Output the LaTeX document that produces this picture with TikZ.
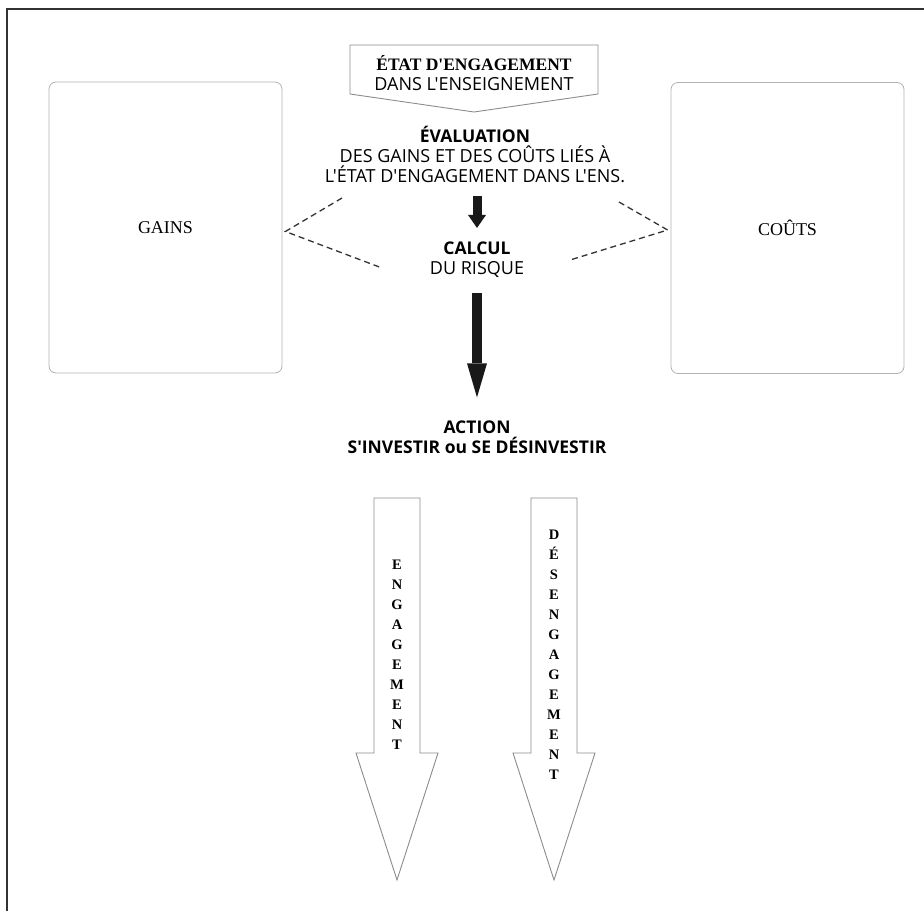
\documentclass[tikz,border=0pt]{standalone}
\usepackage{fontspec}
\setmainfont{Liberation Serif}
\newfontfamily\humsans{Open Sans}
\usetikzlibrary{arrows.meta}

\begin{document}
\begin{tikzpicture}[x=1pt,y=-1pt]
    \tikzstyle{frame} = [line width=1.6pt, black!80]
    \tikzstyle{sidebox} = [draw=black!30, thick, rounded corners=7pt, minimum width=233pt, minimum height=291pt, font=\fontsize{18}{20}\selectfont]
    \tikzstyle{headline} = [align=center, inner sep=0pt, font=\humsans\fontsize{18}{20}\selectfont]
    \tikzstyle{solidarrow} = [black!90, line width=9pt]
    \tikzstyle{hollowarrow} = [draw=black!45, fill=white, line width=0.9pt, line join=miter]
    \tikzstyle{dashedlink} = [black!80, line width=1.3pt, dash pattern=on 6pt off 4pt]
    \tikzstyle{letters} = [align=center, inner sep=0pt, font=\bfseries\fontsize{14.5}{20}\selectfont]
    \useasboundingbox (0,0) rectangle (924,911);

    % Frame on the left and on top
    \draw [frame] (7,911) -- (7,9) -- (924,9);

    % Starting state, in a box pointing down
    \draw [draw=black!45, line width=0.9pt] (350,45) -- (598,45) -- (598,94) -- (474,112) -- (350,94) -- cycle;
    \node [headline] (Etat) at (474,73) {{\rmfamily\bfseries\fontsize{17.5}{20}\selectfont ÉTAT D\textquotesingle ENGAGEMENT}\\DANS L'ENSEIGNEMENT};

    % Evaluation of gains and costs
    \node [headline] (Evaluation) at (475,154) {{\bfseries\fontsize{17.5}{20}\selectfont ÉVALUATION}\\DES GAINS ET DES COÛTS LIÉS À\\L'ÉTAT D'ENGAGEMENT DANS L'ENS.};

    % Risk
    \node [headline] (Calcul) at (477,260) {{\bfseries\fontsize{17.5}{20}\selectfont CALCUL}\\DU RISQUE};
    \draw [solidarrow, -{Triangle[width=18pt,length=13pt,line width=0pt]}, shorten <=14pt, shorten >=14pt] (Evaluation.south -| Calcul.north) -- (Calcul.north);

    % Action
    \node [headline, font=\humsans\bfseries\fontsize{17.5}{20}\selectfont] (Action) at (477,437) {ACTION\\S'INVESTIR ou SE DÉSINVESTIR};
    \draw [solidarrow, line width=10pt, -{Triangle[width=20pt,length=34pt,line width=0pt]}, shorten <=15pt, shorten >=23pt] (Calcul.south) -- (Calcul.south |- Action.north);

    % Left box, gains
    \node [sidebox] (Gains) at (165.5,227.5) {GAINS};
    \coordinate (GainsTop) at (342,198);
    \coordinate (GainsBottom) at (382,268);
    \draw [dashedlink] (GainsTop) -- ([yshift=-4pt,xshift=3pt]Gains.east) -- (GainsBottom);

    % Right box, costs
    \node [sidebox] (Couts) at (787.5,228) {COÛTS};
    \coordinate (CoutsTop) at (619,202);
    \coordinate (CoutsBottom) at (570,260);
    \draw [dashedlink] (CoutsTop) -- ([yshift=-2pt,xshift=-3pt]Couts.west) -- (CoutsBottom);

    % Engagement, hollow arrow
    \draw [hollowarrow] (374,498) -- (420,498) -- (420,753) -- (438,753) -- (397,880) -- (356,753) -- (374,753) -- cycle;
    \node [letters] (Engagement) at (397,655) {E\\N\\G\\A\\G\\E\\M\\E\\N\\T};

    % Disengagement, hollow arrow
    \draw [hollowarrow] (531,498) -- (577,498) -- (577,753) -- (595,753) -- (554,880) -- (513,753) -- (531,753) -- cycle;
    \node [letters] (Desengagement) at (554,655) {D\\É\\S\\E\\N\\G\\A\\G\\E\\M\\E\\N\\T};
\end{tikzpicture}
\end{document}
